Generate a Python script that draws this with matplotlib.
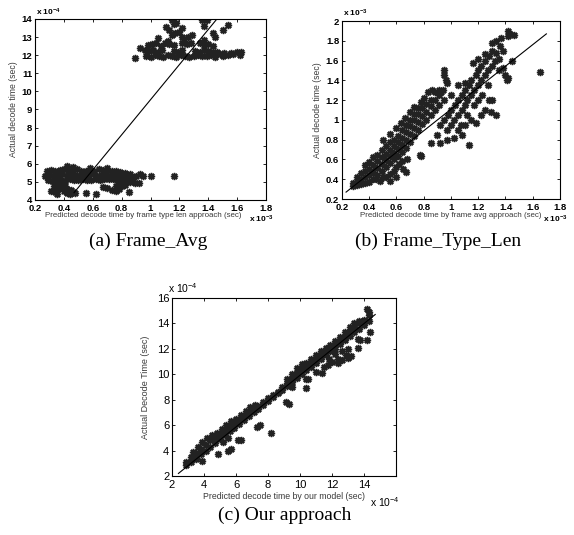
import matplotlib
matplotlib.use("Agg")
import matplotlib.pyplot as plt

plt.rcParams['font.family'] = ['Liberation Sans', 'DejaVu Sans']
plt.rcParams['mathtext.default'] = 'regular'

# ---------------- (a) Frame_Avg : x in 1e-3 s, y in 1e-4 s ----------------
a_x = [
    # lower band, top row
    0.28, 0.31, 0.34, 0.37, 0.40, 0.43, 0.46, 0.49, 0.52, 0.55, 0.58, 0.61, 0.64, 0.67, 0.70, 0.73, 0.76, 0.79, 0.82,
    # lower band, middle row
    0.27, 0.30, 0.33, 0.36, 0.39, 0.42, 0.45, 0.48, 0.51, 0.54, 0.57, 0.60, 0.63, 0.66, 0.69, 0.72, 0.75, 0.78, 0.81, 0.84, 0.87,
    # lower band, bottom row
    0.29, 0.32, 0.35, 0.38, 0.41, 0.44, 0.47, 0.50, 0.53, 0.56, 0.59, 0.62, 0.65, 0.68, 0.71, 0.74, 0.77, 0.80, 0.83, 0.86, 0.89, 0.92,
    # around the lower band
    0.42, 0.46, 0.58, 0.70, 0.86, 0.90, 0.93, 0.95, 1.00, 1.16, 0.88, 0.85,
    # below the lower band
    0.31, 0.34, 0.36, 0.33, 0.36, 0.38, 0.40, 0.42, 0.44, 0.46, 0.42, 0.45, 0.48, 0.39, 0.35, 0.41,
    0.55, 0.62, 0.67, 0.70, 0.73, 0.76, 0.78, 0.80, 0.79, 0.82, 0.85, 0.76,
    # upper band, top row
    0.98, 1.01, 1.04, 1.07, 1.10, 1.13, 1.16, 1.22, 1.25, 1.28, 1.34, 1.37, 1.40, 1.43,
    # upper band, middle row
    0.96, 0.99, 1.02, 1.05, 1.08, 1.16, 1.19, 1.22, 1.31, 1.34, 1.37, 1.40, 1.43,
    # upper band, bottom row
    0.97, 1.00, 1.03, 1.06, 1.09, 1.12, 1.15, 1.18, 1.21, 1.24, 1.27, 1.30, 1.33, 1.36, 1.39, 1.42, 1.45,
    # upper band tail
    1.48, 1.51, 1.54, 1.57, 1.60, 1.63, 1.50, 1.56, 1.62, 1.46,
    # above the upper band
    0.89, 0.93, 1.05, 1.11, 1.13, 1.15, 1.16, 1.15, 1.18, 1.20, 1.22, 1.22, 1.29, 1.36, 1.39, 1.37,
    1.43, 1.45, 1.37, 1.50, 1.54, 1.23, 1.26, 1.17, 1.12,
]
a_y = [
    5.62, 5.68, 5.58, 5.66, 5.72, 5.60, 5.64, 5.70, 5.58, 5.62, 5.66, 5.60, 5.70, 5.64, 5.68, 5.58, 5.60, 5.55, 5.50,
    5.35, 5.40, 5.32, 5.38, 5.42, 5.34, 5.36, 5.40, 5.30, 5.38, 5.35, 5.42, 5.33, 5.37, 5.40, 5.32, 5.36, 5.34, 5.30, 5.28, 5.25,
    5.08, 5.05, 5.12, 5.10, 5.06, 5.14, 5.10, 5.12, 5.15, 5.10, 5.13, 5.16, 5.12, 5.15, 5.14, 5.18, 5.12, 5.10, 5.05, 5.00, 4.95, 4.92,
    5.85, 5.80, 5.78, 5.75, 5.45, 5.35, 5.42, 5.30, 5.32, 5.35, 5.15, 5.05,
    4.50, 4.45, 4.60, 4.80, 4.95, 4.70, 4.50, 4.40, 4.35, 4.45, 4.62, 4.55, 4.40, 4.85, 4.35, 4.75,
    4.40, 4.35, 4.70, 4.65, 4.55, 4.50, 4.60, 4.75, 4.95, 4.85, 4.45, 4.75,
    12.55, 12.60, 12.70, 12.50, 12.65, 12.60, 12.55, 12.70, 12.60, 12.65, 12.70, 12.55, 12.60, 12.50,
    12.30, 12.25, 12.30, 12.20, 12.30, 12.25, 12.20, 12.30, 12.25, 12.20, 12.30, 12.25, 12.20,
    11.95, 11.92, 12.00, 11.95, 11.90, 12.00, 11.95, 11.92, 12.02, 11.95, 11.90, 11.98, 12.00, 11.93, 11.95, 12.00, 11.92,
    12.05, 12.10, 12.00, 12.05, 12.15, 12.15, 11.95, 12.10, 12.00, 12.20,
    11.85, 12.40, 12.95, 13.55, 13.40, 13.10, 13.70, 13.95, 13.80, 13.30, 13.50, 13.00, 13.10, 13.95, 13.95, 13.60,
    13.20, 13.00, 12.85, 13.40, 13.65, 12.90, 13.00, 13.20, 12.80,
]
a_fit_x = [0.47, 1.46]
a_fit_y = [4.4, 14.0]

# ---------------- (b) Frame_Type_Len : x, y in 1e-3 s ----------------
b_x = [
    0.28, 0.28, 0.31, 0.31, 0.31, 0.34, 0.34, 0.34, 0.37, 0.37, 0.37, 0.37,
    0.40, 0.40, 0.40, 0.40, 0.43, 0.43, 0.43, 0.43, 0.46, 0.46, 0.46, 0.46,
    0.49, 0.49, 0.49, 0.49, 0.52, 0.52, 0.52, 0.52, 0.55, 0.55, 0.55, 0.55,
    0.58, 0.58, 0.58, 0.58, 0.61, 0.61, 0.61, 0.61, 0.64, 0.64, 0.64, 0.64,
    0.67, 0.67, 0.67, 0.67, 0.70, 0.70, 0.70, 0.70, 0.73, 0.73, 0.73, 0.73,
    0.76, 0.76, 0.76, 0.76, 0.79, 0.79, 0.79, 0.82, 0.82, 0.82, 0.85, 0.85, 0.85,
    0.88, 0.88, 0.88, 0.91, 0.91, 0.91, 0.94, 0.95, 0.95, 0.96, 0.97,
    0.80, 0.83, 0.86, 0.78, 0.60, 0.63, 0.66, 0.70, 0.73, 0.55, 0.50,
    # below the fit line
    0.45, 0.48, 0.50, 0.55, 0.58, 0.60, 0.62, 0.65, 0.67, 0.64, 0.68, 0.55, 0.60, 0.77, 0.78, 0.52,
    # second branch
    0.90, 0.92, 0.95, 0.97, 0.98, 1.00, 1.00, 1.02, 1.03, 1.05, 1.05, 1.07, 1.08, 1.08, 1.10, 1.10,
    1.12, 1.12, 1.13, 1.15, 1.15, 1.17, 1.17, 1.18, 1.20, 1.20, 1.20, 1.22, 1.22, 1.23, 1.25, 1.25,
    1.27, 1.27, 1.28, 1.30, 1.30, 1.32, 1.33, 1.35, 1.36, 1.38, 1.33, 1.30, 1.37, 1.42, 1.42, 1.43, 1.46,
    1.28, 1.30, 1.25, 1.22, 1.15, 1.08, 1.05, 1.02, 0.97, 0.92, 0.85, 1.13, 1.10, 1.00, 0.95, 0.93, 1.05, 1.10,
    # outliers
    1.65, 1.40, 1.42, 1.41, 1.45, 1.38, 1.35, 1.16, 1.20, 1.25, 1.18, 1.29, 1.33,
]
b_y = [
    0.33, 0.36, 0.34, 0.38, 0.42, 0.35, 0.40, 0.46, 0.36, 0.42, 0.48, 0.54,
    0.37, 0.44, 0.50, 0.57, 0.40, 0.47, 0.54, 0.62, 0.44, 0.51, 0.58, 0.65,
    0.48, 0.55, 0.62, 0.70, 0.52, 0.59, 0.66, 0.74, 0.56, 0.63, 0.70, 0.78,
    0.60, 0.67, 0.74, 0.80, 0.64, 0.71, 0.78, 0.84, 0.68, 0.75, 0.82, 0.90,
    0.72, 0.80, 0.88, 0.95, 0.78, 0.86, 0.94, 1.00, 0.84, 0.92, 1.00, 1.06,
    0.90, 0.98, 1.06, 1.12, 0.96, 1.04, 1.12, 1.00, 1.08, 1.16, 1.05, 1.14, 1.20,
    1.10, 1.20, 1.28, 1.15, 1.25, 1.30, 1.30, 1.50, 1.45, 1.40, 1.37,
    1.22, 1.28, 1.30, 1.18, 0.92, 0.97, 1.02, 1.08, 1.13, 0.86, 0.80,
    0.40, 0.38, 0.42, 0.45, 0.48, 0.52, 0.55, 0.50, 0.47, 0.58, 0.60, 0.38, 0.42, 0.65, 0.64, 0.42,
    0.85, 0.95, 1.00, 0.90, 1.05, 1.10, 0.95, 1.00, 1.15, 1.05, 1.20, 0.95, 1.10, 1.25, 1.15, 1.30,
    1.05, 1.20, 1.35, 1.25, 1.40, 1.15, 1.30, 1.45, 1.20, 1.35, 1.50, 1.40, 1.55, 1.25, 1.45, 1.60,
    1.35, 1.50, 1.65, 1.55, 1.70, 1.60, 1.68, 1.62, 1.75, 1.70, 1.80, 1.78, 1.83, 1.85, 1.90, 1.87, 1.86,
    1.20, 1.20, 1.10, 1.05, 1.00, 0.85, 0.90, 0.82, 0.80, 0.77, 0.77, 0.75, 0.95, 1.25, 1.20, 1.28, 1.35, 1.37,
    1.48, 1.45, 1.42, 1.40, 1.60, 1.52, 1.50, 1.58, 1.62, 1.67, 0.97, 1.08, 1.05,
]
b_fit_x = [0.23, 1.70]
b_fit_y = [0.27, 1.87]

# ---------------- (c) Our approach : x, y in 1e-4 s ----------------
c_x = [
    # main band (two rows share these x)
    2.9, 3.2, 3.5, 3.8, 4.1, 4.4, 4.7, 5.0, 5.3, 5.6, 5.9, 6.2, 6.5, 6.8, 7.1, 7.4, 7.7, 8.0, 8.3, 8.6,
    8.9, 9.2, 9.5, 9.8, 10.1, 10.4, 10.7, 11.0, 11.3, 11.6, 11.9, 12.2, 12.5, 12.8, 13.1, 13.4, 13.7, 14.0, 14.3,
    2.9, 3.2, 3.5, 3.8, 4.1, 4.4, 4.7, 5.0, 5.3, 5.6, 5.9, 6.2, 6.5, 6.8, 7.1, 7.4, 7.7, 8.0, 8.3, 8.6,
    8.9, 9.2, 9.5, 9.8, 10.1, 10.4, 10.7, 11.0, 11.3, 11.6, 11.9, 12.2, 12.5, 12.8, 13.1, 13.4, 13.7, 14.0, 14.3,
    # thicker upper edge at low x
    3.3, 3.6, 3.9, 4.2, 4.5, 4.8, 5.1, 5.4, 5.7, 6.0, 6.3, 6.6, 6.9, 7.2,
    # upper edge at high x
    9.2, 9.5, 9.8, 10.1, 10.4, 10.7, 11.0, 11.3, 11.6, 11.9, 12.2, 12.5, 12.8, 13.1, 13.4, 13.7, 14.2, 14.3,
    # lower edge at high x
    10.5, 11.0, 11.5, 12.0, 12.4, 12.6, 13.0, 13.2, 13.6, 11.8,
    # outliers
    3.5, 3.9, 4.9, 5.5, 5.7, 5.2, 6.1, 6.3, 5.5, 7.3, 7.5, 8.2, 9.1, 9.3, 10.4, 10.4, 9.5, 11.4,
    11.75, 12.6, 12.9, 13.6, 14.4, 14.2, 13.75, 12.4, 13.0, 12.2,
]
c_y = [
    3.1, 3.5, 3.8, 4.1, 4.4, 4.8, 5.0, 5.3, 5.6, 5.9, 6.2, 6.4, 6.7, 7.0, 7.3, 7.5, 7.8, 8.1, 8.4, 8.6,
    9.0, 9.3, 9.6, 10.1, 10.4, 10.6, 10.9, 11.2, 11.5, 11.8, 12.1, 12.3, 12.6, 12.9, 13.4, 13.7, 14.0, 14.3, 14.7,
    2.9, 3.1, 3.4, 3.7, 4.0, 4.3, 4.6, 4.9, 5.2, 5.5, 5.8, 6.1, 6.4, 6.7, 7.0, 7.3, 7.6, 7.9, 8.2, 8.5,
    8.8, 9.1, 9.4, 9.7, 10.0, 10.3, 10.6, 10.9, 11.2, 11.5, 11.8, 12.0, 12.4, 12.7, 13.0, 13.3, 13.6, 13.9, 14.2,
    3.9, 4.3, 4.7, 5.0, 5.2, 5.4, 5.7, 6.0, 6.3, 6.5, 6.8, 7.1, 7.4, 7.6,
    9.6, 10.0, 10.5, 10.8, 10.9, 11.2, 11.5, 11.8, 12.1, 12.3, 12.6, 12.9, 13.3, 13.7, 14.0, 14.2, 15.1, 14.9,
    9.6, 10.2, 10.6, 11.0, 11.2, 11.8, 12.0, 11.4, 12.8, 11.2,
    3.3, 3.2, 3.7, 4.0, 4.1, 4.7, 4.8, 4.8, 5.0, 5.85, 6.0, 5.4, 7.8, 7.7, 8.9, 9.6, 9.0, 10.1,
    10.7, 11.1, 11.5, 12.1, 13.3, 12.7, 12.7, 10.9, 11.3, 11.6,
]
c_fit_x = [2.4, 14.7]
c_fit_y = [2.2, 14.7]

a_xticks = [0.2, 0.4, 0.6, 0.8, 1.0, 1.2, 1.4, 1.6, 1.8]
a_xlabels = ['0.2', '0.4', '0.6', '0.8', '1', '1.2', '1.4', '1.6', '1.8']
a_yticks = [4, 5, 6, 7, 8, 9, 10, 11, 12, 13, 14]
b_yticks = [0.2, 0.4, 0.6, 0.8, 1.0, 1.2, 1.4, 1.6, 1.8, 2.0]
b_ylabels = ['0.2', '0.4', '0.6', '0.8', '1', '1.2', '1.4', '1.6', '1.8', '2']
c_xticks = [2, 4, 6, 8, 10, 12, 14]
c_yticks = [2, 4, 6, 8, 10, 12, 14, 16]

mark = '#222222'
label_col = '#3a3a3a'
star = (8, 2, 0)   # MATLAB-like asterisk
ms = 5.2

fig = plt.figure(figsize=(5.74, 5.35), dpi=100)
ax_a = fig.add_axes([0.061, 0.6262, 0.4024, 0.3383])
ax_b = fig.add_axes([0.5958, 0.628, 0.3798, 0.3327])
ax_c = fig.add_axes([0.2997, 0.1103, 0.3902, 0.3327])


def matlab_box(ax, size, weight):
    ax.tick_params(direction='in', top=True, right=True, length=2.5, width=0.6,
                   pad=2, labelsize=size, colors='black')
    ax.tick_params(axis='x', pad=3)
    for lab in ax.get_xticklabels() + ax.get_yticklabels():
        lab.set_fontweight(weight)
    for sp in ax.spines.values():
        sp.set_linewidth(0.8)


# (a)
ax_a.plot(a_x, a_y, ls='none', marker=star, ms=ms, mec=mark, mew=1.1)
ax_a.plot(a_fit_x, a_fit_y, color='black', lw=0.8)
ax_a.set_xlim(0.2, 1.8)
ax_a.set_ylim(4, 14)
ax_a.set_xticks(a_xticks, a_xlabels)
ax_a.set_yticks(a_yticks)
matlab_box(ax_a, 6.8, 'bold')
ax_a.set_xlabel('Predicted decode time by frame type len approach (sec)', fontsize=5.7, color=label_col)
ax_a.xaxis.set_label_coords(0.47, -0.066)
ax_a.set_ylabel('Actual decode time (sec)', fontsize=6.2, color=label_col)
ax_a.yaxis.set_label_coords(-0.074, 0.5)
ax_a.text(0.005, 1.008, r'x 10$^{-4}$', transform=ax_a.transAxes, fontsize=6, fontweight='bold', va='bottom')
ax_a.text(0.925, -0.075, r'x 10$^{-3}$', transform=ax_a.transAxes, fontsize=6, fontweight='bold', va='top')

# (b)
ax_b.plot(b_x, b_y, ls='none', marker=star, ms=ms, mec=mark, mew=1.1)
ax_b.plot(b_fit_x, b_fit_y, color='black', lw=0.8)
ax_b.set_xlim(0.2, 1.8)
ax_b.set_ylim(0.2, 2.0)
ax_b.set_xticks(a_xticks, a_xlabels)
ax_b.set_yticks(b_yticks, b_ylabels)
matlab_box(ax_b, 6.8, 'bold')
ax_b.set_xlabel('Predicted decode time by frame avg approach (sec)', fontsize=5.7, color=label_col)
ax_b.xaxis.set_label_coords(0.5, -0.073)
ax_b.set_ylabel('Actual decode time (sec)', fontsize=6.2, color=label_col)
ax_b.yaxis.set_label_coords(-0.092, 0.5)
ax_b.text(0.005, 1.01, r'x 10$^{-3}$', transform=ax_b.transAxes, fontsize=6, fontweight='bold', va='bottom')
ax_b.text(0.92, -0.08, r'x 10$^{-3}$', transform=ax_b.transAxes, fontsize=6, fontweight='bold', va='top')

# (c)
ax_c.plot(c_x, c_y, ls='none', marker=star, ms=ms, mec=mark, mew=1.1)
ax_c.plot(c_fit_x, c_fit_y, color='black', lw=0.8)
ax_c.set_xlim(2, 16)
ax_c.set_ylim(2, 16)
ax_c.set_xticks(c_xticks)
ax_c.set_yticks(c_yticks)
matlab_box(ax_c, 8, 'normal')
ax_c.set_xlabel('Predicted decode time by our model (sec)', fontsize=6.3, color=label_col)
ax_c.xaxis.set_label_coords(0.5, -0.09)
ax_c.set_ylabel('Actual Decode Time (sec)', fontsize=6.5, color=label_col)
ax_c.yaxis.set_label_coords(-0.098, 0.5)
ax_c.text(-0.02, 1.015, r'x 10$^{-4}$', transform=ax_c.transAxes, fontsize=7.5, va='bottom')
ax_c.text(0.884, -0.11, r'x 10$^{-4}$', transform=ax_c.transAxes, fontsize=7.5, va='top')

# captions
serif = ['Liberation Serif', 'DejaVu Serif']
fig.text(148 / 574, 1 - 241 / 535, '(a) Frame_Avg', family=serif, fontsize=14, ha='center', va='center')
fig.text(438 / 574, 1 - 241 / 535, '(b) Frame_Type_Len', family=serif, fontsize=14, ha='center', va='center')
fig.text(285 / 574, 1 - 515 / 535, '(c) Our approach', family=serif, fontsize=14, ha='center', va='center')

fig.savefig('out.png', dpi=100)
